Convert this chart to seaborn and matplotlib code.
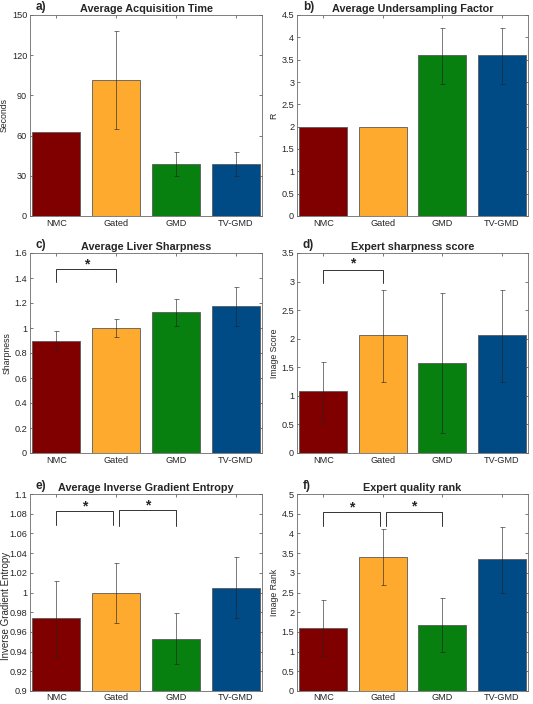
import numpy as np
import pandas as pd
import seaborn as sns
import matplotlib
matplotlib.use("Agg")
import matplotlib.pyplot as plt

sns.set_theme(style="white")
plt.rcParams['font.family'] = ['Liberation Sans', 'DejaVu Sans']

categories = ["NMC", "Gated", "GMD", "TV-GMD"]
colors = ["#800000", "#FDAA2E", "#08800F", "#004B86"]

acq_time = [63, 101.5, 39, 39]
acq_lo = [np.nan, 65, 30, 30]
acq_hi = [np.nan, 138, 48, 48]

usf = [2.0, 2.0, 3.6, 3.6]
usf_lo = [np.nan, np.nan, 2.95, 2.95]
usf_hi = [np.nan, np.nan, 4.22, 4.22]

sharp = [0.90, 1.00, 1.125, 1.175]
sharp_lo = [0.83, 0.925, 1.02, 1.02]
sharp_hi = [0.975, 1.075, 1.23, 1.33]

score = [1.08, 2.06, 1.58, 2.06]
score_lo = [0.55, 1.25, 0.35, 1.25]
score_hi = [1.60, 2.86, 2.80, 2.86]

entropy = [0.974, 1.000, 0.953, 1.005]
entropy_lo = [0.935, 0.969, 0.927, 0.974]
entropy_hi = [1.012, 1.030, 0.979, 1.036]

rank = [1.61, 3.40, 1.67, 3.34]
rank_lo = [0.90, 2.70, 0.98, 2.50]
rank_hi = [2.32, 4.10, 2.36, 4.17]

panels = [
    dict(label="a)", title="Average Acquisition Time", ylabel="Seconds",
         vals=acq_time, lo=acq_lo, hi=acq_hi, ylim=(0, 150), yticks=[0, 30, 60, 90, 120, 150],
         brackets=[]),
    dict(label="b)", title="Average Undersampling Factor", ylabel="R",
         vals=usf, lo=usf_lo, hi=usf_hi, ylim=(0, 4.5), yticks=list(np.arange(0, 4.51, 0.5)),
         brackets=[]),
    dict(label="c)", title="Average Liver Sharpness", ylabel="Sharpness",
         vals=sharp, lo=sharp_lo, hi=sharp_hi, ylim=(0, 1.6), yticks=list(np.arange(0, 1.61, 0.2)),
         brackets=[(0, 1, 1.368, 1.475, 1.51)]),
    dict(label="d)", title="Expert sharpness score", ylabel="Image Score",
         vals=score, lo=score_lo, hi=score_hi, ylim=(0, 3.5), yticks=list(np.arange(0, 3.51, 0.5)),
         brackets=[(0, 1, 2.98, 3.197, 3.31)]),
    dict(label="e)", title="Average Inverse Gradient Entropy", ylabel="Inverse Gradient Entropy",
         vals=entropy, lo=entropy_lo, hi=entropy_hi, ylim=(0.9, 1.1), yticks=list(np.arange(0.9, 1.101, 0.02)),
         brackets=[(0, 0.95, 1.0688, 1.0827, 1.0878), (1.05, 2, 1.0680, 1.0834, 1.0882)]),
    dict(label="f)", title="Expert quality rank", ylabel="Image Rank",
         vals=rank, lo=rank_lo, hi=rank_hi, ylim=(0, 5), yticks=list(np.arange(0, 5.01, 0.5)),
         brackets=[(0, 0.95, 4.20, 4.545, 4.67), (1.05, 2, 4.20, 4.55, 4.675)]),
]

fig = plt.figure(figsize=(5.33, 7.04), dpi=100)
W, H = 533, 704
lefts = [30, 297]
widths = [232, 231]
tops = [15, 253, 494]
heights = [201, 200, 197]

for i, p in enumerate(panels):
    r, c = divmod(i, 2)
    ax = fig.add_axes([lefts[c] / W, (H - tops[r] - heights[r]) / H, widths[c] / W, heights[r] / H])
    df = pd.DataFrame({"cat": categories, "val": p["vals"]})
    sns.barplot(data=df, x="cat", y="val", hue="cat", palette=colors, order=categories,
                hue_order=categories, legend=False, width=0.8, edgecolor="#5a5a5a",
                linewidth=0.6, ax=ax, errorbar=None, saturation=1)
    vals = np.array(p["vals"], float)
    lo = np.array(p["lo"], float)
    hi = np.array(p["hi"], float)
    xs = np.arange(len(categories))
    m = ~np.isnan(lo)
    ax.errorbar(xs[m], vals[m], yerr=[vals[m] - lo[m], hi[m] - vals[m]], fmt="none",
                ecolor="#222222", elinewidth=0.6, capsize=1.8, capthick=0.6, alpha=0.7, zorder=5)
    ax.set_xlim(-0.44, 3.44)
    ax.set_ylim(*p["ylim"])
    ax.set_yticks(p["yticks"])
    ax.set_yticklabels(["{:g}".format(round(t, 3)) for t in p["yticks"]])
    ax.set_xlabel("")
    if r == 2 and c == 0:
        ax.set_ylabel(p["ylabel"], fontsize=7.0, labelpad=2)
        ax.yaxis.set_label_coords(-0.083, 0.43)
    else:
        ax.set_ylabel(p["ylabel"], fontsize=6.3, labelpad=2)
    ax.tick_params(axis="both", direction="in", length=2.5, width=0.5, labelsize=6.6,
                   top=True, right=True, bottom=True, left=True, pad=2, color="#444444")
    if r == 2:
        ax.tick_params(axis="x", pad=1.2)
    for s in ax.spines.values():
        s.set_linewidth(0.6)
        s.set_color("#6a6a6a")
    ax.set_title(p["title"], fontsize=7.8, fontweight="bold", pad=2.5)
    ax.text(0.025, 1.012, p["label"], transform=ax.transAxes, fontsize=8.5,
            fontweight="bold", ha="left", va="bottom")
    for (x0, x1, yl, yt, ys) in p["brackets"]:
        ax.plot([x0, x0, x1, x1], [yl, yt, yt, yl], color="#333333", lw=0.7, zorder=6)
        ax.text((x0 + x1) / 2, ys, "*", ha="center", va="center", fontsize=10, fontweight="bold")

fig.savefig("out.png", dpi=100)
